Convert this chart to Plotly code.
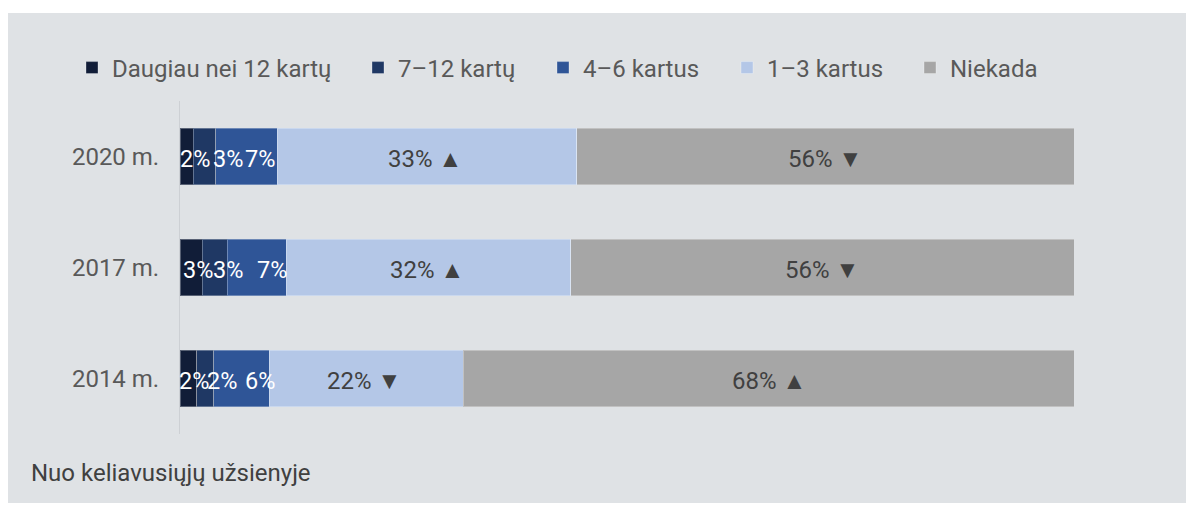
import plotly.graph_objects as go

# ---- data ----
years = ["2014 m.", "2017 m.", "2020 m."]
series_names = ["Daugiau nei 12 kartų", "7–12 kartų", "4–6 kartus", "1–3 kartus", "Niekada"]
# shares (%) per year, order matches `years`
s_over12 = [1.9, 2.5, 1.5]
s_7_12 = [1.9, 2.8, 2.5]
s_4_6 = [6.2, 6.6, 6.9]
s_1_3 = [21.7, 31.8, 33.5]
s_never = [68.3, 56.3, 55.6]
# printed labels
lbl_over12 = ["2%", "3%", "2%"]
lbl_7_12 = ["2%", "3%", "3%"]
lbl_4_6 = ["6%", "7%", "7%"]
lbl_1_3 = ["22% ▼", "32% ▲", "33% ▲"]
lbl_never = ["68% ▲", "56% ▼", "56% ▼"]
footnote = "Nuo keliavusiųjų užsienyje"

# ---- style ----
colors = ["#111d38", "#1f3864", "#2f5597", "#b4c7e7", "#a6a6a6"]
text_colors = ["#ffffff", "#ffffff", "#ffffff", "#404040", "#404040"]
label_sizes = [23.5, 23.5, 23.5, 24, 24]
# horizontal label nudges in pixels (labels in narrow segments are pushed right)
label_nudge = [
    [5.5, 7, 8],
    [17, 13, 23.5],
    [18, 15, 13.5],
    [-2, -2, -2],
    [0, 0, 0],
]

values = [s_over12, s_7_12, s_4_6, s_1_3, s_never]
labels = [lbl_over12, lbl_7_12, lbl_4_6, lbl_1_3, lbl_never]

FONT = "Roboto, Arial, sans-serif"
FS = 24

# page offset (body margin) -> figure coordinates = reference pixel - 8
OFF = 8
W, H = 1186, 497
L, T = 180 - OFF, 101 - OFF
R = W - (1074 - OFF)
B = H - (434 - OFF)
pw, ph = W - L - R, H - T - B

def px(x):
    return (x - OFF - L) / pw

def py(y):
    return (H - B - (y - OFF)) / ph

legend_keys = ["legend", "legend2", "legend3", "legend4", "legend5"]
legend_text_x = [109, 395, 580, 764, 947]  # reference text starts

fig = go.Figure()
for name, v, c, lg in zip(series_names, values, colors, legend_keys):
    fig.add_trace(go.Bar(
        y=years, x=v, name=name, orientation="h",
        marker=dict(color=c, line=dict(color="rgba(255,255,255,0.3)", width=1)),
        width=0.505, legend=lg, hoverinfo="skip",
    ))

# segment labels drawn on top of all bars
cum = [0.0] * len(years)
for v, t, tc, fs, nudge in zip(values, labels, text_colors, label_sizes, label_nudge):
    for i, yr in enumerate(years):
        mid = cum[i] + v[i] / 2
        fig.add_annotation(x=mid, y=yr, xref="x", yref="y", text=t[i],
                           showarrow=False, xanchor="center", yanchor="middle",
                           xshift=nudge[i], yshift=-2.5,
                           font=dict(family=FONT, size=fs, color=tc))
    cum = [cum[i] + v[i] for i in range(len(years))]

fig.add_shape(type="rect", xref="paper", yref="paper",
              x0=px(0), x1=px(1200), y0=py(503), y1=py(13),
              fillcolor="#dfe2e5", line=dict(width=0), layer="below")

fig.add_annotation(text=footnote, xref="paper", yref="paper",
                   x=px(29), y=py(473), xanchor="left", yanchor="middle",
                   showarrow=False, font=dict(family=FONT, size=FS, color="#404040"))

legend_layout = {}
for lg, tx in zip(legend_keys, legend_text_x):
    legend_layout[lg] = dict(orientation="h", x=px(tx - 37), xanchor="left",
                             y=py(68), yanchor="middle",
                             bgcolor="rgba(0,0,0,0)", borderwidth=0,
                             font=dict(family=FONT, size=FS, color="#595959"))

fig.update_layout(
    width=W, height=H,
    margin=dict(l=L, r=R, t=T, b=B, pad=0),
    barmode="stack",
    paper_bgcolor="#ffffff",
    plot_bgcolor="rgba(0,0,0,0)",
    font=dict(family=FONT, size=FS, color="#595959"),
    showlegend=True,
    xaxis=dict(range=[0, 100], showticklabels=False, showgrid=False,
               zeroline=False, showline=False, fixedrange=True),
    yaxis=dict(type="category", categoryorder="array", categoryarray=years,
               range=[-0.5, 2.5], showgrid=False, zeroline=False,
               showline=True, linecolor="#cdd0d4", linewidth=1,
               ticks="outside", ticklen=15, tickcolor="rgba(0,0,0,0)",
               tickfont=dict(family=FONT, size=FS, color="#595959")),
    **legend_layout,
)

fig.write_html("out.html")
